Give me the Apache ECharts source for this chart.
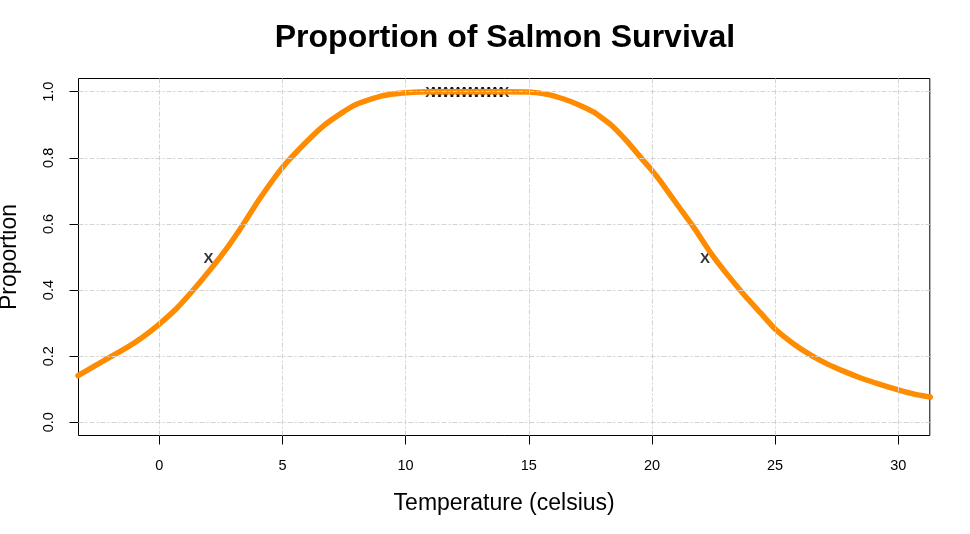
<!DOCTYPE html>
<html>
<head>
<meta charset="utf-8">
<script src="https://cdn.jsdelivr.net/npm/echarts@6/dist/echarts.min.js"></script>
<style>html,body{margin:0;padding:0;background:#fff;}#c{width:970px;height:534px;}</style>
</head>
<body>
<div id="c"></div>
<script>
// Curve
const tempX = [-3.3, -2.0, -1.32, -0.65, 0, 0.71, 1.38, 2.06, 2.74, 3.35, 4.02, 4.7, 5, 5.38, 6.06, 6.74, 7.41, 7.89, 8.29, 8.97, 9.5, 10, 11, 12, 13, 14, 15, 15.75, 16.42, 16.97, 17.64, 18.32, 18.99, 19.67, 20, 20.35, 21.03, 21.71, 22.39, 23.07, 23.74, 24.42, 25, 25.77, 26.45, 27.13, 27.8, 28.48, 29.16, 30, 30.65, 31.3];
const survivalY = [0.141, 0.197, 0.226, 0.259, 0.297, 0.345, 0.400, 0.461, 0.526, 0.592, 0.670, 0.742, 0.771, 0.803, 0.855, 0.901, 0.936, 0.958, 0.970, 0.986, 0.993, 0.997, 1.0, 1.0, 1.0, 1.0, 0.999, 0.992, 0.978, 0.962, 0.938, 0.901, 0.850, 0.790, 0.762, 0.729, 0.658, 0.588, 0.512, 0.446, 0.386, 0.330, 0.282, 0.236, 0.203, 0.176, 0.154, 0.134, 0.117, 0.098, 0.085, 0.076];
// "x" marks
const markX = [2, 22.15, 11, 11.25, 11.5, 11.75, 12, 12.25, 12.5, 12.75, 13, 13.25, 13.5, 13.75, 14];
const markY = [0.5, 0.5, 1, 1, 1, 1, 1, 1, 1, 1, 1, 1, 1, 1, 1];
// Tick labels
const xTicks = [0, 5, 10, 15, 20, 25, 30];
const yTicks = [0, 0.2, 0.4, 0.6, 0.8, 1.0];

const FONT = "'Liberation Sans', Arial, sans-serif";
const gridStyle = {color: '#d3d3d3', width: 1, type: [5, 2, 2, 2]};

const chart = echarts.init(document.getElementById('c'), null, {renderer: 'canvas'});
chart.setOption({
  backgroundColor: '#fff',
  animation: false,
  title: {
    text: 'Proportion of Salmon Survival',
    left: 500, top: 17, textAlign: 'center',
    textStyle: {fontFamily: FONT, fontSize: 32, fontWeight: 'bold', color: '#000'}
  },
  grid: {left: 78.5, right: 40.2, top: 78.5, bottom: 98.5, show: true, borderColor: '#000', borderWidth: 1,
    containLabel: false, outerBoundsMode: 'none'},
  xAxis: {
    type: 'value', min: -3.28, max: 31.28,
    name: 'Temperature (celsius)', nameLocation: 'middle', nameGap: 57,
    nameTextStyle: {fontFamily: FONT, fontSize: 23, color: '#000'},
    axisLine: {show: false, onZero: false},
    axisTick: {show: true, customValues: xTicks, length: 9, lineStyle: {color: '#000', width: 1}},
    axisLabel: {show: true, customValues: xTicks, margin: 23, fontFamily: FONT, fontSize: 14.5, color: '#000'},
    splitLine: {show: false}
  },
  yAxis: {
    type: 'value', min: -0.04, max: 1.04,
    name: 'Proportion', nameLocation: 'middle', nameGap: 57, nameRotate: 90,
    nameTextStyle: {fontFamily: FONT, fontSize: 23, color: '#000'},
    axisLine: {show: false, onZero: false},
    axisTick: {show: true, customValues: yTicks, length: 9, lineStyle: {color: '#000', width: 1}},
    axisLabel: {show: true, customValues: yTicks, rotate: 90, margin: 22, fontFamily: FONT, fontSize: 14.5, color: '#000',
      formatter: v => v.toFixed(1)},
    splitLine: {show: false}
  },
  series: [
    {
      type: 'line', data: [], z: 1, silent: true,
      markLine: {
        silent: true, symbol: 'none', label: {show: false}, lineStyle: gridStyle, animation: false,
        data: xTicks.map(v => ({xAxis: v})).concat(yTicks.map(v => ({yAxis: v})))
      }
    },
    {
      type: 'scatter', z: 2, silent: true,
      data: markX.map((x, i) => [x, markY[i]]),
      symbolSize: 2, itemStyle: {color: 'rgba(0,0,0,0)'},
      label: {show: true, position: 'inside', offset: [0, 1.5], formatter: 'X', fontFamily: FONT, fontSize: 15, fontWeight: 'bold', color: '#000'}
    },
    {
      type: 'line', z: 3, silent: true,
      data: tempX.map((x, i) => [x, survivalY[i]]),
      showSymbol: false, smooth: 0.15,
      lineStyle: {color: '#ff8c00', width: 5.5, cap: 'round', join: 'round'}
    }
  ]
});
</script>
</body>
</html>
